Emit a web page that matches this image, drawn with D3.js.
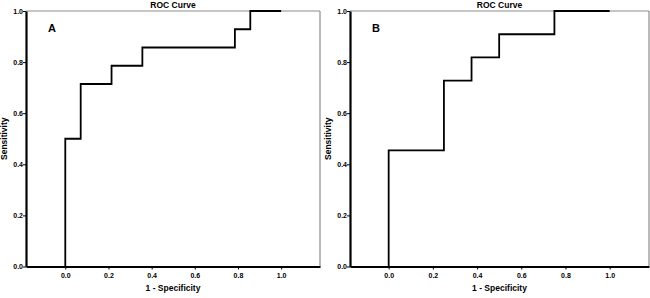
<!DOCTYPE html>
<html><head><meta charset="utf-8">
<script src="https://cdn.jsdelivr.net/npm/d3@7"></script>
<style>body{margin:0;background:#fff}svg{display:block}text{font-family:Arial,"Liberation Sans",sans-serif;font-weight:bold;fill:#000}</style>
</head><body>
<svg id="c" width="650" height="298"></svg>
<script>
const panelLabels = ["A", "B"];
const fprA = [0, 0, 0.0714, 0.0714, 0.2143, 0.2143, 0.3571, 0.3571, 0.7857, 0.7857, 0.8571, 0.8571, 1.0];
const sensA = [0, 0.5, 0.5, 0.7143, 0.7143, 0.7857, 0.7857, 0.8571, 0.8571, 0.9286, 0.9286, 1.0, 1.0];
const fprB = [0, 0, 0.25, 0.25, 0.375, 0.375, 0.5, 0.5, 0.75, 0.75, 1.0];
const sensB = [0, 0.4545, 0.4545, 0.7273, 0.7273, 0.8182, 0.8182, 0.9091, 0.9091, 1.0, 1.0];
const tickValues = [0, 0.2, 0.4, 0.6, 0.8, 1.0];
const titleText = "ROC Curve";
const xLabel = "1 - Specificity";
const yLabel = "Sensitivity";

(function () {
const svg = d3.select("#c");
const panels = [
  {label: panelLabels[0], x: fprA, y: sensA, left: 26, right: 320, xd: [-0.182, 1.18]},
  {label: panelLabels[1], x: fprB, y: sensB, left: 350, right: 649, xd: [-0.175, 1.178]}
];
const plotTop = 11, plotBottom = 266.5;

panels.forEach(p => {
  const g = svg.append("g");
  const x = d3.scaleLinear().domain(p.xd).range([p.left, p.right]);
  const y = d3.scaleLinear().domain([0, 1]).range([plotBottom, plotTop]);
  g.append("line").attr("x1", p.left).attr("x2", p.right).attr("y1", plotTop).attr("y2", plotTop)
    .attr("stroke", "#8c8c8c").attr("stroke-width", 1.2);
  g.append("line").attr("x1", p.right).attr("x2", p.right).attr("y1", plotTop).attr("y2", plotBottom)
    .attr("stroke", "#8c8c8c").attr("stroke-width", 1.2);
  const pts = p.x.map((v, i) => [v, p.y[i]]);
  g.append("path").datum(pts)
    .attr("d", d3.line().x(d => x(d[0])).y(d => y(d[1])))
    .attr("fill", "none").attr("stroke", "#000").attr("stroke-width", 1.8);
  const xa = g.append("g").attr("transform", `translate(0,${plotBottom})`)
    .call(d3.axisBottom(x).tickValues(tickValues).tickFormat(d3.format(".1f")).tickSize(3).tickSizeOuter(0));
  const ya = g.append("g").attr("transform", `translate(${p.left},0)`)
    .call(d3.axisLeft(y).tickValues(tickValues).tickFormat(d3.format(".1f")).tickSize(3).tickSizeOuter(0));
  [xa, ya].forEach(a => {
    a.select(".domain").attr("stroke", "#000").attr("stroke-width", 2.2);
    a.selectAll(".tick line").attr("stroke", "#000").attr("stroke-width", 1);
    a.selectAll(".tick text").attr("font-size", 7).attr("font-weight", "bold").attr("fill", "#000")
      .attr("font-family", "Arial, 'Liberation Sans', sans-serif");
  });
  xa.selectAll(".tick text").attr("dy", "0.9em").attr("y", 5);
  ya.selectAll(".tick text").attr("x", -3);
  const cx = (p.left + p.right) / 2;
  g.append("text").attr("x", cx).attr("y", 7.5).attr("text-anchor", "middle")
    .attr("font-size", 8.5).text(titleText);
  g.append("text").attr("x", cx).attr("y", 291).attr("text-anchor", "middle")
    .attr("font-size", 8.5).text(xLabel);
  g.append("text").attr("transform", `translate(${p.left - 19},${(plotTop + plotBottom) / 2}) rotate(-90)`)
    .attr("text-anchor", "middle").attr("font-size", 8.5).text(yLabel);
  g.append("text").attr("x", p.left + 22).attr("y", 32).attr("font-size", 11).text(p.label);
});
})();
</script>
</body></html>
